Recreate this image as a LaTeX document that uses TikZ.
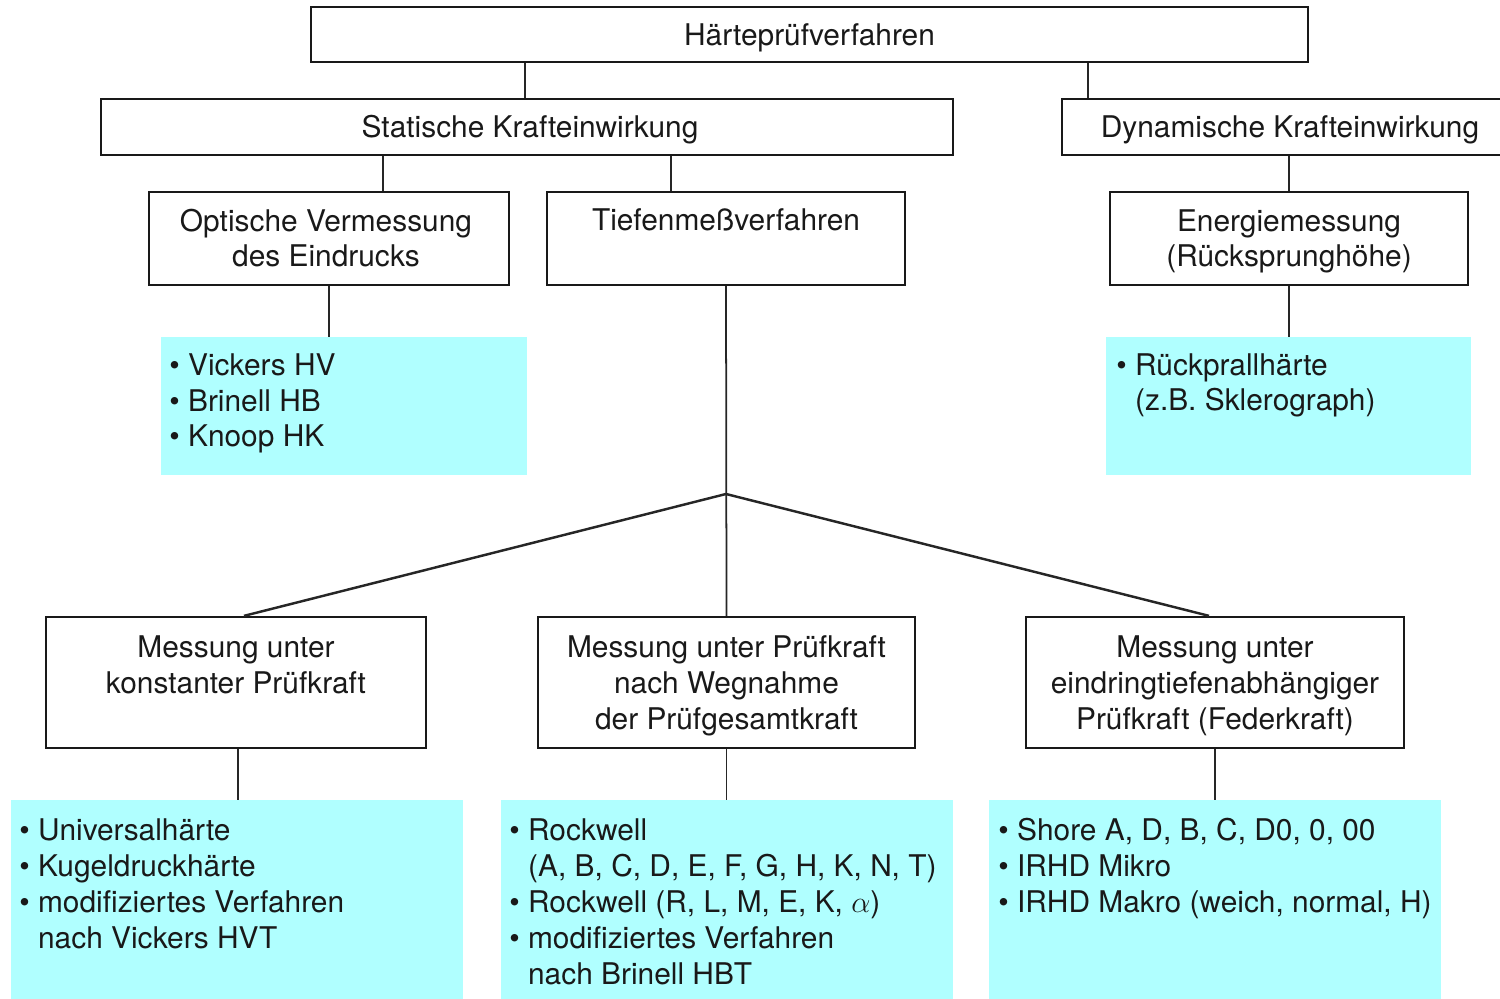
\documentclass[tikz,border=0pt]{standalone}
\usepackage{fontspec}
\setmainfont{TeX Gyre Heros}
\definecolor{cyanfill}{RGB}{176,255,255}
\definecolor{txt}{RGB}{25,25,25}
\newcommand\myind{\hphantom{\textbullet\ }}
\begin{document}
\begin{tikzpicture}[x=0.02cm,y=-0.02cm,
  box/.style={draw=black!90,line width=1.3pt,minimum height=#1,inner sep=0pt},
  box/.default=1.12cm,
  cy/.style={fill=cyanfill,draw=none,inner sep=0pt,minimum height=#1},
  cy/.default=2.76cm,
  lbl/.style={anchor=base,align=center,inner sep=0pt,text=txt,font=\fontsize{17}{20.4}\selectfont},
  lst/.style={anchor=base west,align=left,inner sep=0pt,text=txt,font=\fontsize{17}{20.4}\selectfont},
  con/.style={draw=black!85,line width=1pt},
  diag/.style={draw=black!85,line width=1.4pt}]
\useasboundingbox (0,0) rectangle (1500,999);
% boxes
\node[box=1.1cm,minimum width=19.94cm] (top) at (809.5,34.5) {};
\node[box,minimum width=17.04cm] (stat) at (527,127) {};
\node[box,minimum width=9.1cm] (dyn) at (1289.5,127) {};
\node[box=1.86cm,minimum width=7.2cm] (opt) at (329,238.5) {};
\node[box=1.86cm,minimum width=7.16cm] (tief) at (726,238.5) {};
\node[box=1.86cm,minimum width=7.16cm] (ener) at (1289,238.5) {};
\node[cy,minimum width=7.32cm] (c1) at (344,406) {};
\node[cy,minimum width=7.3cm] (c2) at (1288.5,406) {};
\node[box=2.62cm,minimum width=7.6cm] (b1) at (236,682.5) {};
\node[box=2.62cm,minimum width=7.54cm] (b2) at (726.5,682.5) {};
\node[box=2.62cm,minimum width=7.56cm] (b3) at (1215,682.5) {};
\node[cy=4.2cm,minimum width=9.04cm] (d1) at (237,905) {};
\node[cy=4.2cm,minimum width=9.04cm] (d2) at (727,905) {};
\node[cy=4.2cm,minimum width=9.04cm] (d3) at (1215,905) {};
% texts (multi-line: anchor at baseline of last line)
\node[lbl] (ttop) at (809.5,46) {Härteprüfverfahren};
\node[lbl] (tstat) at (530,138) {Statische Krafteinwirkung};
\node[lbl] (tdyn) at (1290,138) {Dynamische Krafteinwirkung};
\node[lbl] (topt) at (326,267) {Optische Vermessung\\des Eindrucks};
\node[lbl] (ttief) at (726,231) {Tiefenmeßverfahren};
\node[lbl] (tener) at (1289,267) {Energiemessung\\(Rücksprunghöhe)};
\node[lst] (tc1) at (169,447) {\textbullet\ Vickers HV\\\textbullet\ Brinell HB\\\textbullet\ Knoop HK};
\node[lst] (tc2) at (1116,411) {\textbullet\ Rückprallhärte\\\myind(z.B. Sklerograph)};
\node[lbl] (tb1) at (236,693) {Messung unter\\konstanter Prüfkraft};
\node[lbl] (tb2) at (726.5,729) {Messung unter Prüfkraft\\nach Wegnahme\\der Prüfgesamtkraft};
\node[lbl] (tb3) at (1215,729) {Messung unter\\eindringtiefenabhängiger\\Prüfkraft (Federkraft)};
\node[lst] (td1) at (19,948) {\textbullet\ Universalhärte\\\textbullet\ Kugeldruckhärte\\\textbullet\ modifiziertes Verfahren\\\myind nach Vickers HVT};
\node[lst] (td2) at (509,984) {\textbullet\ Rockwell\\\myind(A, B, C, D, E, F, G, H, K, N, T)\\\textbullet\ Rockwell (R, L, M, E, K, $\alpha$)\\\textbullet\ modifiziertes Verfahren\\\myind nach Brinell HBT};
\node[lst] (td3) at (998,912) {\textbullet\ Shore A, D, B, C, D0, 0, 00\\\textbullet\ IRHD Mikro\\\textbullet\ IRHD Makro (weich, normal, H)};
% connectors
\coordinate (br) at (726,494);
\draw[con] ([xshift=-0.04cm]stat.north) -- ([xshift=-0.04cm]stat.north |- top.south);
\draw[con] ([xshift=0.54cm]dyn.north west) -- ([xshift=0.54cm]dyn.north west |- top.south);
\draw[con] ([xshift=5.66cm]stat.south west) -- ([xshift=5.66cm]stat.south west |- opt.north);
\draw[con] ([xshift=2.5cm]tief.north west) -- ([xshift=2.5cm]tief.north west |- stat.south);
\draw[con] (ener.north) -- (ener.north |- dyn.south);
\draw[con] (opt.south) -- (c1.north -| opt.south);
\draw[con] (ener.south) -- (c2.north -| ener.south);
\draw[con] (tief.south) -- (b2.north);
\draw[diag] (br) -- ([xshift=0.16cm]b1.north);
\draw[diag] (br) -- ([xshift=-0.12cm]b3.north);
\draw[con] ([xshift=0.04cm]b1.south) -- ([xshift=0.04cm]b1.south |- d1.north);
\draw[con] (b2.south) -- (b2.south |- d2.north);
\draw[con] (b3.south) -- (b3.south |- d3.north);
\end{tikzpicture}
\end{document}
